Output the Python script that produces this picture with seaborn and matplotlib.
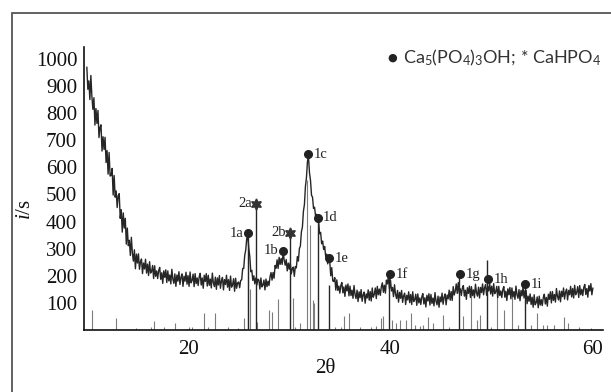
import numpy as np
import pandas as pd
import matplotlib
matplotlib.use("Agg")
import matplotlib.pyplot as plt
from matplotlib.patches import Rectangle
import seaborn as sns

# ---------------- data ----------------
# scan: 2theta from 10 to 60 in 0.1 degree steps
scan_start, scan_stop, scan_step = 10.0, 60.0, 0.1
intensity = [
    970, 888, 919, 850, 939, 861, 814, 857, 756, 817,   # 10.0
    762, 810, 710, 747, 757, 660, 713, 666, 711, 618,   # 11.0
    662, 575, 655, 568, 570, 596, 498, 570, 490, 513,   # 12.0
    452, 495, 503, 412, 444, 361, 432, 376, 412, 317,   # 13.0
    376, 311, 331, 275, 342, 284, 254, 296, 226, 280,   # 14.0
    247, 281, 224, 251, 262, 208, 247, 225, 261, 210,   # 15.0
    243, 201, 252, 210, 217, 238, 190, 237, 198, 218,   # 16.0
    190, 220, 231, 187, 211, 172, 218, 194, 222, 175,   # 17.0
    218, 181, 203, 170, 224, 188, 172, 207, 161, 203,   # 18.0
    180, 215, 168, 194, 207, 161, 198, 180, 213, 169,   # 19.0
    201, 161, 214, 174, 183, 206, 160, 208, 171, 192,   # 20.0
    164, 196, 209, 166, 192, 154, 202, 179, 208, 162,   # 21.0
    202, 165, 188, 155, 210, 175, 160, 195, 150, 192,   # 22.0
    166, 201, 154, 181, 194, 148, 186, 168, 202, 158,   # 23.0
    186, 146, 199, 158, 167, 189, 143, 191, 154, 174,   # 24.0
    177, 156, 183, 185, 227, 227, 275, 295, 338, 345,   # 25.0
    302, 272, 215, 220, 183, 200, 170, 192, 166, 188,   # 26.0
    184, 151, 192, 159, 166, 184, 148, 188, 160, 180,   # 27.0
    164, 196, 212, 184, 212, 191, 238, 228, 259, 227,   # 28.0
    268, 242, 264, 242, 289, 258, 239, 260, 218, 247,   # 29.0
    224, 248, 207, 226, 232, 198, 234, 229, 271, 254,   # 30.0
    300, 310, 362, 380, 438, 463, 530, 562, 622, 640,   # 31.0
    580, 552, 497, 490, 448, 453, 420, 427, 397, 400,   # 32.0
    355, 360, 318, 328, 297, 308, 271, 280, 244, 262,   # 33.0
    254, 200, 230, 181, 179, 193, 147, 185, 146, 162,   # 34.0
    136, 165, 175, 137, 159, 124, 166, 144, 170, 126,   # 35.0
    162, 127, 147, 117, 164, 131, 116, 147, 105, 141,   # 36.0
    119, 149, 106, 130, 140, 99, 133, 118, 148, 110,    # 37.0
    142, 107, 155, 121, 131, 155, 116, 161, 130, 151,   # 38.0
    128, 160, 174, 139, 165, 136, 184, 170, 200, 152,   # 39.0
    185, 144, 157, 123, 167, 132, 116, 146, 103, 139,   # 40.0
    117, 146, 102, 126, 136, 94, 128, 111, 141, 101,    # 41.0
    131, 94, 141, 105, 112, 132, 91, 133, 100, 118,     # 42.0
    94, 123, 134, 96, 119, 85, 128, 107, 134, 92,       # 43.0
    131, 98, 118, 89, 138, 106, 93, 125, 84, 122,       # 44.0
    104, 136, 95, 121, 133, 93, 129, 115, 147, 110,     # 45.0
    142, 109, 160, 129, 143, 170, 135, 175, 136, 152,   # 46.0
    127, 154, 164, 125, 147, 113, 156, 135, 162, 120,   # 47.0
    160, 127, 148, 119, 169, 137, 125, 158, 118, 157,   # 48.0
    138, 170, 130, 156, 168, 128, 161, 144, 173, 133,   # 49.0
    162, 125, 171, 134, 141, 161, 119, 161, 127, 144,   # 50.0
    120, 149, 160, 121, 143, 109, 152, 130, 157, 115,   # 51.0
    155, 122, 142, 113, 162, 130, 117, 149, 108, 146,   # 52.0
    126, 158, 118, 145, 146, 97, 125, 106, 133, 94,     # 53.0
    121, 84, 130, 93, 101, 122, 82, 125, 92, 112,       # 54.0
    90, 120, 132, 96, 120, 88, 132, 113, 141, 100,      # 55.0
    142, 109, 131, 103, 153, 124, 111, 144, 104, 143,   # 56.0
    123, 155, 114, 140, 151, 111, 146, 130, 161, 122,   # 57.0
    153, 118, 165, 130, 139, 160, 120, 164, 130, 150,   # 58.0
    127, 157, 168, 131, 153, 121, 164, 144, 171, 130,   # 59.0
    155,                                                # 60.0
]

# reference stick pattern (position, height)
stick_pos = [10.5, 12.9, 14.9, 16.3, 16.6, 17.6, 18.7, 19.9, 20.1, 20.4,
             21.55, 22.0, 22.67, 23.9, 24.9, 25.5, 25.9, 26.1, 26.85, 28.0,
             28.3, 28.9, 30.4, 30.6, 31.1, 31.75, 32.05, 32.3, 32.45, 34.5,
             35.1, 35.4, 35.9, 37.0, 38.1, 38.6, 39.07, 39.3, 40.2, 40.5,
             40.9, 41.5, 42.0, 42.4, 42.9, 43.2, 43.7, 44.2, 45.2, 45.8,
             47.2, 48.0, 48.55, 48.85, 49.9, 50.5, 51.25, 52.05, 52.6, 53.9,
             54.45, 55.1, 55.5, 56.2, 57.1, 57.5, 58.6, 59.8]
stick_h = [74, 43, 7, 12, 34, 12, 25, 4, 12, 12,
           62, 12, 64, 12, 7, 43, 330, 150, 31, 74,
           68, 113, 117, 12, 25, 553, 387, 110, 100, 12,
           12, 53, 62, 10, 12, 15, 43, 52, 37, 25,
           37, 37, 62, 18, 15, 18, 49, 25, 55, 12,
           52, 141, 37, 55, 12, 135, 74, 141, 18, 18,
           62, 18, 18, 18, 49, 25, 12, 8]

# Ca5(PO4)3OH peaks (dots)
hap_labels = ["1a", "1b", "1c", "1d", "1e", "1f", "1g", "1h", "1i"]
hap_x = [25.9, 29.36, 31.9, 32.8, 33.9, 39.96, 46.9, 49.67, 53.3]
hap_y = [357, 293, 649, 414, 264, 205, 205, 188, 168]
# CaHPO4 peaks (stars)
dcp_labels = ["2a", "2b"]
dcp_x = [26.7, 30.1]
dcp_y = [465, 359]
# peaks with a dark drop line to the axis, and that line's top
drop_x = [25.9, 26.7, 30.1, 32.8, 33.9, 39.9, 46.8, 49.55, 53.25]
drop_top = [357, 465, 359, 414, 165, 195, 200, 258, 165]

left_side = ["1a", "1b", "2a", "2b"]

# ---------------- styling ----------------
sns.set_theme(style="white")
plt.rcParams["font.family"] = ["Liberation Serif", "DejaVu Serif"]
plt.rcParams["mathtext.fontset"] = "custom"
plt.rcParams["mathtext.rm"] = "Liberation Serif"
plt.rcParams["mathtext.it"] = "Liberation Serif:italic"
plt.rcParams["mathtext.sf"] = "Lato"

W, H = 611, 392
fig = plt.figure(figsize=(W / 100, H / 100), dpi=100)
fig.patch.set_facecolor("white")
ax = fig.add_axes([84.3 / W, (H - 330) / H, (603 - 84.3) / W, (330 - 47) / H])
ax.set_facecolor("white")

two_theta = np.round(np.arange(scan_start, scan_stop + scan_step / 2, scan_step), 2)
df = pd.DataFrame({"two_theta": two_theta, "intensity": intensity})

ax.vlines(stick_pos, 0, stick_h, color="#7c7c7c", lw=0.8, zorder=1)
sns.lineplot(data=df, x="two_theta", y="intensity", ax=ax,
             color="#262626", lw=1.0, zorder=2)
ax.vlines(drop_x, 0, drop_top, color="#262626", lw=1.0, zorder=3)

ax.plot(hap_x, hap_y, ls="none", marker="o", ms=5.5, color="#222222", zorder=4)
ax.plot(dcp_x, dcp_y, ls="none", marker=(6, 1, 0), ms=8, color="#333333", zorder=4)

for lbl, x, y in list(zip(hap_labels, hap_x, hap_y)) + list(zip(dcp_labels, dcp_x, dcp_y)):
    if lbl in left_side:
        ax.annotate(lbl, (x, y), xytext=(-3, 0), textcoords="offset points",
                    ha="right", va="center", fontsize=10.5, color="#222222")
    else:
        ax.annotate(lbl, (x, y), xytext=(4, 0), textcoords="offset points",
                    ha="left", va="center", fontsize=10.5, color="#222222")

ax.set_xlim(9.75, 61.0)
ax.set_ylim(0, 1044)
ax.set_xticks([20, 40, 60])
ax.set_yticks(list(range(100, 1001, 100)))
ax.tick_params(axis="both", direction="in", length=3.5, width=1, colors="#111111",
               labelsize=15)
ax.tick_params(axis="x", pad=7)
ax.tick_params(axis="y", pad=5)
for s in ["top", "right"]:
    ax.spines[s].set_visible(False)
for s in ["left", "bottom"]:
    ax.spines[s].set_color("#111111")
    ax.spines[s].set_linewidth(1.2)

ax.set_xlabel("2θ", fontsize=15, color="#111111")
ax.xaxis.set_label_coords((325 - 84.3) / (603 - 84.3), (330 - 359) / 283)
ax.set_ylabel(r"$i$/s", fontsize=15, color="#111111")
ax.yaxis.set_label_coords((35 - 84.3) / (603 - 84.3), (330 - 210) / 283)

# legend-like note
fig.text(392 / W, 1 - 58 / H, "●", fontsize=8, family="DejaVu Sans",
         ha="center", va="center", color="#222222")
fig.text(403 / W, 1 - 58 / H,
         r"Ca$_\mathsf{5}$(PO$_\mathsf{4}$)$_\mathsf{3}$OH; * CaHPO$_\mathsf{4}$",
         fontsize=13, family="Lato", ha="left", va="center", color="#333333")

# outer frame
fig.add_artist(Rectangle((12 / W, -0.05), 1.0, 1 - 13 / H + 0.05,
                         transform=fig.transFigure, fill=False,
                         ec="#555555", lw=1.3))

fig.savefig("out.png", dpi=100, facecolor="white")
